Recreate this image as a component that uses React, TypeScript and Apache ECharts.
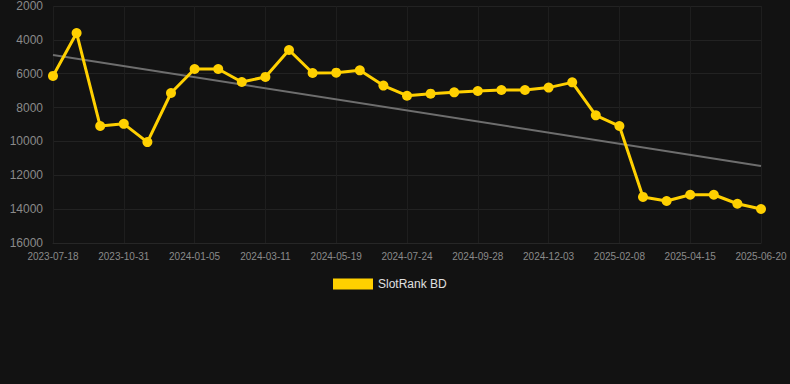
import React, { useEffect, useRef } from "react";
import * as echarts from "echarts";

const dates = [
  "2023-07-18", "2023-08-22", "2023-09-26", "2023-10-31", "2023-11-22", "2023-12-14",
  "2024-01-05", "2024-01-27", "2024-02-18", "2024-03-11", "2024-04-03", "2024-04-26",
  "2024-05-19", "2024-06-10", "2024-07-02", "2024-07-24", "2024-08-15", "2024-09-06",
  "2024-09-28", "2024-10-20", "2024-11-11", "2024-12-03", "2024-12-25", "2025-01-17",
  "2025-02-08", "2025-03-02", "2025-03-24", "2025-04-15", "2025-05-07", "2025-05-29",
  "2025-06-20",
];

const rankValues = [
  6130, 3600, 9090, 8960, 10040, 7140,
  5720, 5720, 6490, 6190, 4600, 5960,
  5940, 5800, 6700, 7300, 7180, 7100,
  7020, 6960, 6960, 6820, 6510, 8460,
  9090, 13280, 13520, 13150, 13150, 13680,
  13990,
];

const trendStart = 4890;
const trendEnd = 11450;

const yTicks = { min: 2000, max: 16000, interval: 2000 };

const seriesName = "SlotRank BD";

export default function App() {
  const ref = useRef<HTMLDivElement>(null);

  useEffect(() => {
    document.body.style.margin = "0";
    document.body.style.background = "#121212";
    if (!ref.current) return;
    const chart = echarts.init(ref.current, null, { renderer: "svg" });
    const trendData = dates.map((_, i) =>
      i === 0 ? trendStart : i === dates.length - 1 ? trendEnd : null
    );
    chart.setOption({
      animation: false,
      backgroundColor: "#121212",
      textStyle: { fontFamily: "Arial, 'Liberation Sans', sans-serif" },
      grid: { left: 53, right: 29, top: 6, bottom: 141, containLabel: false },
      legend: {
        data: [seriesName],
        top: 273,
        left: 328,
        itemWidth: 40,
        itemHeight: 11,
        icon: "rect",
        textStyle: { color: "#e0e0e0", fontSize: 12 },
      },
      xAxis: {
        type: "category",
        data: dates,
        boundaryGap: false,
        axisLine: { show: true, lineStyle: { color: "#262626" } },
        axisTick: { show: false },
        axisLabel: { interval: 2, color: "#8a8a8a", fontSize: 10, margin: 8 },
        splitLine: { show: true, interval: 2, lineStyle: { color: "#1e1e1e" } },
      },
      yAxis: {
        type: "value",
        inverse: true,
        min: yTicks.min,
        max: yTicks.max,
        interval: yTicks.interval,
        axisLine: { show: false },
        axisTick: { show: false },
        axisLabel: {
          color: "#8a8a8a",
          fontSize: 12,
          margin: 10,
          formatter: (v: number) => String(v),
        },
        splitLine: { show: true, lineStyle: { color: "#222222" } },
      },
      series: [
        {
          name: "trend",
          type: "line",
          data: trendData,
          connectNulls: true,
          showSymbol: false,
          symbol: "none",
          lineStyle: { color: "#6e6e6e", width: 2 },
          silent: true,
          z: 1,
        },
        {
          name: seriesName,
          type: "line",
          data: rankValues,
          symbol: "circle",
          symbolSize: 10,
          itemStyle: { color: "#ffd000" },
          lineStyle: { color: "#ffd000", width: 3 },
          z: 2,
        },
      ],
    });
    return () => chart.dispose();
  }, []);

  return <div ref={ref} style={{ width: 790, height: 384 }} />;
}
